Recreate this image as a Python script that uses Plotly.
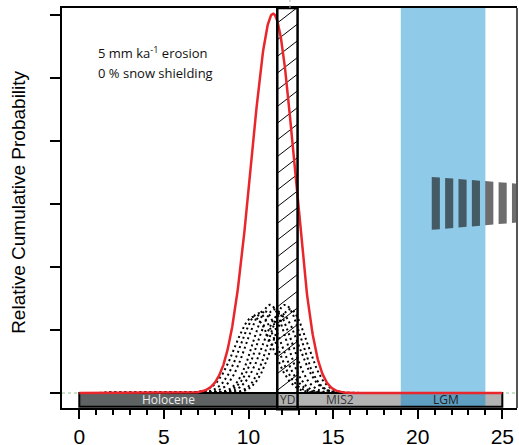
import numpy as np
import plotly.graph_objects as go

# Boulder exposure ages (ka) and their 1-sigma uncertainties
SAMPLE_AGES = [10.3, 10.6, 10.9, 11.27, 11.55, 11.9, 12.17, 12.45]
SAMPLE_ERRORS = [1.1, 1.05, 1.02, 0.95, 1.0, 1.05, 0.95, 1.0]
SINGLE_SCALE = 1.33   # display scale of the individual probability curves
SUM_PEAK = 6.02       # peak of the summed (cumulative) curve

# Climate periods shown in the time bar (ka)
PERIOD_NAMES = ["Holocene", "YD", "MIS2"]
PERIOD_START = [0.0, 11.7, 12.9]
PERIOD_END = [11.7, 12.9, 25.0]
PERIOD_LABEL_X = [5.25, 12.3, 15.4]
LGM_NAME = "LGM"
LGM_START, LGM_END = 19.0, 24.0

X_TICKS = [0, 5, 10, 15, 20, 25]
Y_TICKS = [0, 1, 2, 3, 4, 5, 6]

X_RANGE = [-1.022, 25.868]
Y_RANGE = [-0.238, 6.111]
BAR_BOTTOM = -0.217

ages = np.array(SAMPLE_AGES)
errs = np.array(SAMPLE_ERRORS)
t = np.linspace(0, 25, 1001)

fig = go.Figure()

# individual age probability curves
pdfs = []
for a, s in zip(ages, errs):
    p = np.exp(-0.5 * ((t - a) / s) ** 2) / (s * np.sqrt(2 * np.pi))
    pdfs.append(p)
    fig.add_trace(go.Scatter(
        x=t, y=SINGLE_SCALE * np.sqrt(2 * np.pi) * p, mode="lines",
        line=dict(color="black", width=2, dash="2px,3px"),
        hoverinfo="skip", showlegend=False))

# summed probability curve
total = np.sum(pdfs, axis=0)
fig.add_trace(go.Scatter(
    x=t, y=total / total.max() * SUM_PEAK, mode="lines",
    line=dict(color="#e8262b", width=2.5),
    hoverinfo="skip", showlegend=False))

shapes = []
# LGM band
shapes.append(dict(type="rect", xref="x", yref="y", x0=LGM_START, x1=LGM_END,
                   y0=BAR_BOTTOM, y1=Y_RANGE[1], fillcolor="#8fcbe8",
                   line=dict(width=0), layer="below"))
# zero line
shapes.append(dict(type="line", xref="paper", yref="y", x0=0, x1=1, y0=0, y1=0,
                   line=dict(color="#8cc78c", width=1, dash="dot"), layer="below"))

# hatching of the Younger Dryas interval
yd0, yd1 = PERIOD_START[1], PERIOD_END[1]
w = yd1 - yd0
rise, step = 0.25, 0.265
path = ""
yb = Y_RANGE[0] - rise
while yb < Y_RANGE[1]:
    ys, ye = yb, yb + rise
    xs, xe = yd0, yd1
    if ys < Y_RANGE[0]:
        xs = yd0 + (Y_RANGE[0] - ys) / rise * w
        ys = Y_RANGE[0]
    if ye > Y_RANGE[1]:
        xe = yd0 + (Y_RANGE[1] - yb) / rise * w
        ye = Y_RANGE[1]
    if xe > xs:
        path += f"M{xs},{ys} L{xe},{ye} "
    yb += step
shapes.append(dict(type="path", xref="x", yref="y", path=path,
                   line=dict(color="black", width=1), layer="below"))

# time bar cells
cell_colors = ["#5e6262", "#b3b3b3", "#b3b3b3"]
for x0, x1, c in zip(PERIOD_START, PERIOD_END, cell_colors):
    shapes.append(dict(type="rect", xref="x", yref="y", x0=x0, x1=x1,
                       y0=BAR_BOTTOM, y1=0, fillcolor=c,
                       line=dict(width=0), layer="below"))
shapes.append(dict(type="rect", xref="x", yref="y", x0=LGM_START, x1=LGM_END,
                   y0=BAR_BOTTOM, y1=0, fillcolor="#5f9fc1",
                   line=dict(width=0), layer="below"))
shapes.append(dict(type="rect", xref="x", yref="y", x0=PERIOD_START[0],
                   x1=PERIOD_END[-1], y0=BAR_BOTTOM, y1=0,
                   line=dict(color="black", width=2), layer="below"))

# Younger Dryas frame
shapes.append(dict(type="rect", xref="x", yref="paper", x0=yd0, x1=yd1,
                   y0=-0.003, y1=1, line=dict(color="black", width=2.5),
                   layer="above"))

# tapering dashed arrow shaft
n_dash = 7
for k in range(n_dash):
    xa = 20.83 + 0.79 * k
    xb = xa + 0.48
    ta = (xa - 20.83) / 5.2
    tb = (xb - 20.83) / 5.2
    top_a, top_b = 3.43 - 0.11 * ta, 3.43 - 0.11 * tb
    bot_a, bot_b = 2.59 + 0.12 * ta, 2.59 + 0.12 * tb
    shapes.append(dict(type="path", xref="x", yref="y",
                       path=f"M{xa},{bot_a} L{xa},{top_a} L{xb},{top_b} L{xb},{bot_b} Z",
                       fillcolor="rgba(27,27,27,0.64)", line=dict(width=0),
                       layer="above"))

# right frame and small marker above the frame
shapes.append(dict(type="line", xref="paper", yref="paper", x0=1, x1=1, y0=0, y1=1,
                   line=dict(color="#555555", width=2), layer="above"))
shapes.append(dict(type="line", xref="x", yref="paper", x0=12.45, x1=12.45,
                   y0=1.0, y1=1.025, line=dict(color="#b0b0b0", width=1, dash="dot"),
                   layer="above"))

annotations = []
label_colors = ["#ececec", "#333333", "#333333"]
for name, lx, c in zip(PERIOD_NAMES, PERIOD_LABEL_X, label_colors):
    annotations.append(dict(x=lx, y=BAR_BOTTOM / 2, xref="x", yref="y", text=name,
                            showarrow=False, font=dict(family="Open Sans", size=12, color=c)))
annotations.append(dict(x=(LGM_START + LGM_END) / 2 + 0.2, y=BAR_BOTTOM / 2, xref="x",
                        yref="y", text=LGM_NAME, showarrow=False,
                        font=dict(family="Open Sans", size=12, color="#222222")))
annotations.append(dict(x=1.0, y=5.41, xref="x", yref="y", xanchor="left",
                        text="5 mm ka<sup>-1</sup> erosion", showarrow=False,
                        font=dict(family="Open Sans", size=13, color="#111111")))
annotations.append(dict(x=1.0, y=5.08, xref="x", yref="y", xanchor="left",
                        text="0 % snow shielding", showarrow=False,
                        font=dict(family="Open Sans", size=13, color="#111111")))
annotations.append(dict(x=-0.097, y=0.515, xref="paper", yref="paper",
                        xanchor="center", yanchor="middle",
                        text="Relative Cumulative Probability", textangle=-90,
                        showarrow=False,
                        font=dict(family="Liberation Sans", size=19, color="black")))

minor_vals = [v for v in range(0, 26) if v % 5 != 0]

fig.update_layout(
    width=519, height=445,
    margin=dict(l=62, r=2, t=8, b=37, autoexpand=False),
    paper_bgcolor="white", plot_bgcolor="white",
    shapes=shapes, annotations=annotations, showlegend=False,
    xaxis=dict(range=X_RANGE, tickvals=X_TICKS, ticks="outside", ticklen=9,
               tickwidth=2, tickcolor="black", showgrid=False, zeroline=False,
               showline=True, linecolor="black", linewidth=2, mirror=True,
               automargin=False,
               tickfont=dict(family="Liberation Sans", size=21, color="black"),
               minor=dict(tickvals=minor_vals, ticks="outside", ticklen=5,
                          tickwidth=1.5, tickcolor="black", showgrid=False)),
    yaxis=dict(range=Y_RANGE, tickvals=Y_TICKS, ticks="outside", ticklen=10,
               tickwidth=2, tickcolor="black", showticklabels=False,
               showgrid=False, zeroline=False, showline=True, linecolor="black",
               linewidth=2, automargin=False),
)

fig.write_html("out.html")
